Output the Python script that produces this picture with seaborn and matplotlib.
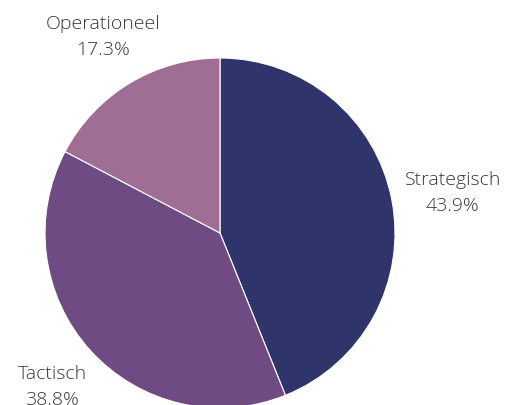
import numpy as np
import seaborn as sns
import matplotlib.pyplot as plt

sns.set_theme(style="white")
plt.rcParams['font.family'] = ['Open Sans', 'DejaVu Sans']

categories = ["Strategisch", "Tactisch", "Operationeel"]
shares = [43.9, 38.8, 17.3]
colors = ["#2f346b", "#6f4b84", "#a06d95"]

fig = plt.figure(figsize=(5.14, 4.05), dpi=100)
# pie centre at (220, 233) px, radius 175 px
ax = fig.add_axes([45 / 514, (405 - 233 - 175) / 405, 350 / 514, 350 / 405])

labels = [f"{c}\n{v:.1f}%" for c, v in zip(categories, shares)]
wedges, texts = ax.pie(shares, labels=labels, colors=colors, startangle=90,
                       counterclock=False, labeldistance=1.31,
                       wedgeprops=dict(edgecolor="white", linewidth=0.8),
                       textprops=dict(fontsize=14, color="#383838",
                                      fontweight="light"))
for t in texts:
    t.set_ha("center")
    t.set_va("center")
    t.set_linespacing(1.55)
texts[0].set_position((1.33, 0.23))
texts[1].set_position((-0.96, -0.88))
texts[2].set_position((-0.67, 1.12))
ax.set_xlim(-1, 1)
ax.set_ylim(-1, 1)
ax.set_aspect("equal")
ax.axis("off")

fig.savefig("out.png", dpi=100)
